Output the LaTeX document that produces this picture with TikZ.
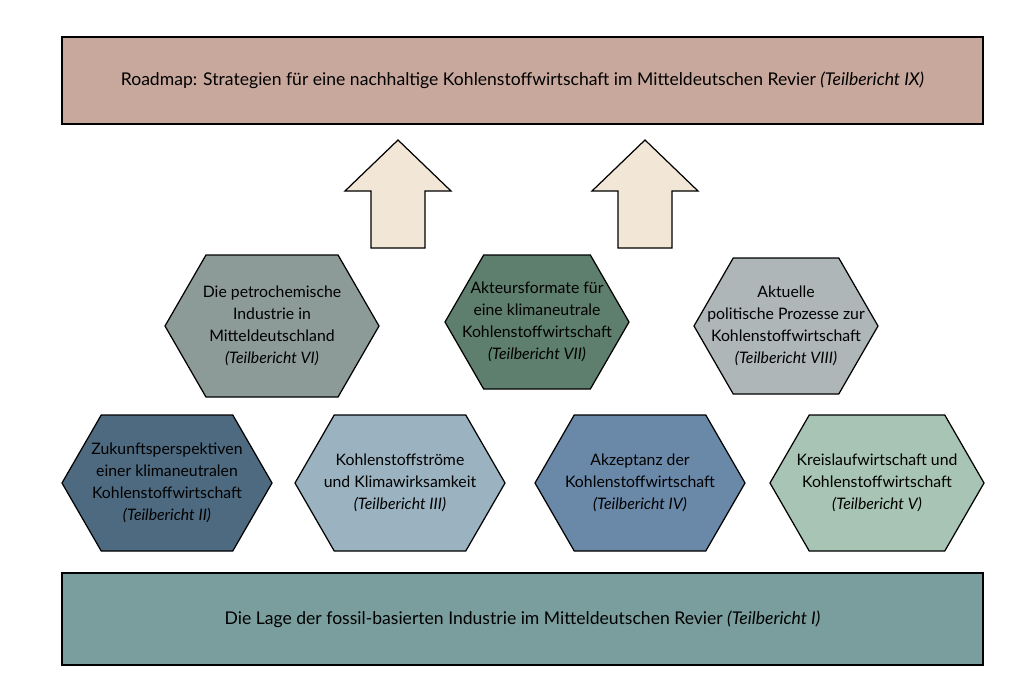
\documentclass[tikz,border=0pt]{standalone}
\usepackage{fontspec}
\setmainfont{Lato}
\newcommand\hexa[7]{% name, cx, cy, halfw, halfh, color, text
  \fill[#6,draw=black,line width=0.7pt] (#2-#4,#3) -- (#2-#4+0.577*#5,#3-#5) -- (#2+#4-0.577*#5,#3-#5) -- (#2+#4,#3) -- (#2+#4-0.577*#5,#3+#5) -- (#2-#4+0.577*#5,#3+#5) -- cycle;
  \node[hextext] (#1) at (#2,#3) {#7};}
\definecolor{topc}{HTML}{C8A89C}
\definecolor{botc}{HTML}{7A9E9E}
\definecolor{arrc}{HTML}{F2E6D6}
\definecolor{hA}{HTML}{8C9A98}
\definecolor{hB}{HTML}{5E7E6E}
\definecolor{hC}{HTML}{AEB6B8}
\definecolor{hD}{HTML}{4E6A80}
\definecolor{hE}{HTML}{9BB3C1}
\definecolor{hF}{HTML}{6A88A8}
\definecolor{hG}{HTML}{A8C4B4}
\tikzset{hextext/.style={align=center,font=\fontsize{9}{12.5}\selectfont,text=black},
 band/.style={draw=black,line width=0.7pt},
 uparrow/.style={fill=arrc,draw=black,line width=0.7pt}}
\begin{document}
\begin{tikzpicture}[x=0.02cm,y=-0.02cm]
\useasboundingbox (0,0) rectangle (1024,683);
\fill[white] (0,0) rectangle (1024,683);
\draw[band,fill=topc] (62,37) rectangle (983,124);
\node[font=\fontsize{10}{12}\selectfont] (top) at (522.5,80) {Roadmap: Strategien für eine nachhaltige Kohlenstoffwirtschaft im Mitteldeutschen Revier \textit{(Teilbericht IX)}};
\draw[band,fill=botc] (62,573) rectangle (983,665);
\node[font=\fontsize{10}{12}\selectfont] (bot) at (522.5,619) {Die Lage der fossil-basierten Industrie im Mitteldeutschen Revier \textit{(Teilbericht I)}};
\foreach \c in {398,645}{
 \draw[uparrow] (\c,140) -- (\c+53,191) -- (\c+27,191) -- (\c+27,248) -- (\c-27,248) -- (\c-27,191) -- (\c-53,191) -- cycle;}
\hexa{h6}{272}{326}{107}{71}{hA}{Die petrochemische\\Industrie in\\Mitteldeutschland\\\textit{(Teilbericht VI)}}
\hexa{h7}{537}{322}{92}{67}{hB}{Akteursformate für\\eine klimaneutrale\\Kohlenstoffwirtschaft\\\textit{(Teilbericht VII)}}
\hexa{h8}{786}{326}{92}{68}{hC}{Aktuelle\\politische Prozesse zur\\Kohlenstoffwirtschaft\\\textit{(Teilbericht VIII)}}
\hexa{h2}{167}{483}{105}{68}{hD}{Zukunftsperspektiven\\einer klimaneutralen\\Kohlenstoffwirtschaft\\\textit{(Teilbericht II)}}
\hexa{h3}{400}{483}{105}{68}{hE}{Kohlenstoffströme\\und Klimawirksamkeit\\\textit{(Teilbericht III)}}
\hexa{h4}{640}{483}{105}{68}{hF}{Akzeptanz der\\Kohlenstoffwirtschaft\\\textit{(Teilbericht IV)}}
\hexa{h5}{877}{483}{107}{68}{hG}{Kreislaufwirtschaft und\\Kohlenstoffwirtschaft\\\textit{(Teilbericht V)}}
\end{tikzpicture}
\end{document}
